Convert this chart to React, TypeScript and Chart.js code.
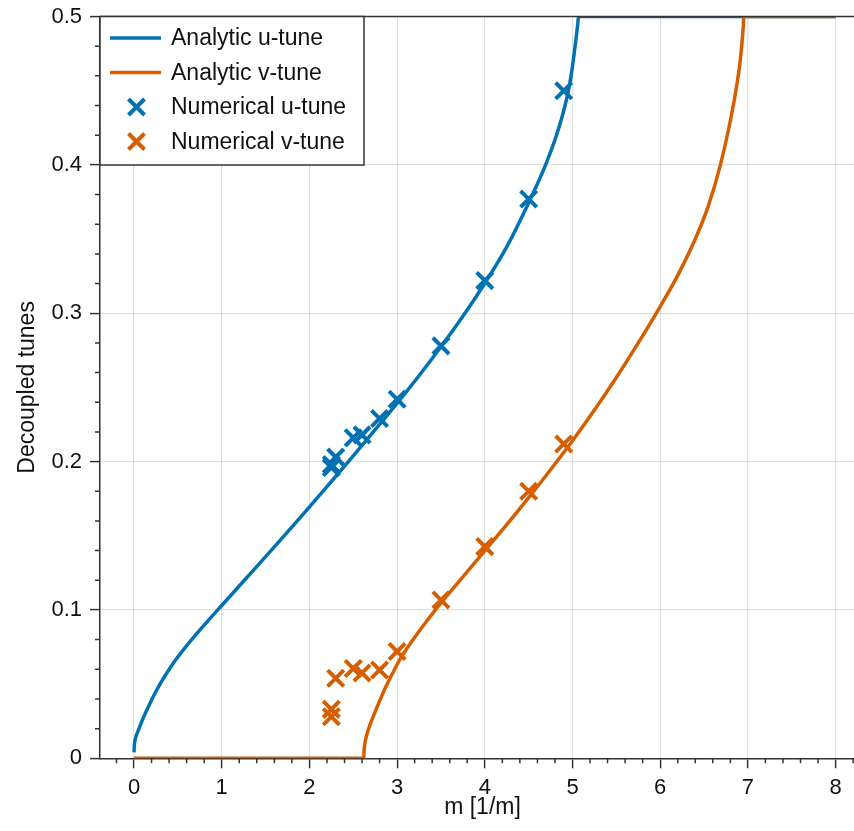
import React, { useEffect, useRef } from 'react';
import { Chart, registerables } from 'chart.js';

Chart.register(...registerables);

const BLUE = '#0072B2';
const ORANGE = '#D55E00';
const FONT = "'Liberation Sans', Arial, Helvetica, sans-serif";

// Analytic u-tune curve
const uLineX = [0, 0.003, 0.01, 0.025, 0.05, 0.1, 0.18, 0.26, 0.35, 0.45, 0.58, 0.72, 0.86, 1.0, 1.3, 1.6, 1.9, 2.2, 2.5, 2.8, 3.1, 3.4, 3.7, 4.0, 4.25, 4.5, 4.7, 4.85, 4.95, 4.99, 5.02, 5.045, 5.06, 5.068, 8.0];
const uLineY = [0.004, 0.0085, 0.0118, 0.0152, 0.019, 0.0265, 0.0368, 0.0462, 0.0553, 0.0643, 0.0744, 0.0843, 0.0938, 0.103, 0.1227, 0.1425, 0.1626, 0.1831, 0.2038, 0.225, 0.2466, 0.2695, 0.2937, 0.3202, 0.3447, 0.3745, 0.401, 0.426, 0.449, 0.4625, 0.4755, 0.4875, 0.495, 0.5, 0.5];

// Analytic v-tune curve
const vLineX = [0, 2.62, 2.622, 2.63, 2.65, 2.69, 2.74, 2.8, 2.87, 2.95, 3.05, 3.17, 3.3, 3.45, 3.6, 3.8, 4.0, 4.25, 4.5, 4.75, 5.0, 5.25, 5.5, 5.75, 6.0, 6.2, 6.4, 6.55, 6.68, 6.78, 6.86, 6.91, 6.935, 6.948, 6.953, 8.0];
const vLineY = [0, 0, 0.004, 0.009, 0.015, 0.0225, 0.03, 0.0385, 0.048, 0.0575, 0.0685, 0.079, 0.0895, 0.101, 0.1118, 0.1258, 0.1398, 0.1575, 0.1757, 0.1945, 0.214, 0.2347, 0.2567, 0.28, 0.3045, 0.3255, 0.35, 0.3725, 0.3985, 0.424, 0.449, 0.469, 0.484, 0.494, 0.5, 0.5];

// Numerical tunes (markers)
const uNumX = [2.25, 2.25, 2.3, 2.5, 2.6, 2.8, 3.0, 3.5, 4.0, 4.5, 4.9];
const uNumY = [0.196, 0.198, 0.203, 0.216, 0.218, 0.229, 0.242, 0.278, 0.322, 0.377, 0.45];
const vNumX = [2.25, 2.25, 2.3, 2.5, 2.6, 2.8, 3.0, 3.5, 4.0, 4.5, 4.9];
const vNumY = [0.028, 0.033, 0.054, 0.0605, 0.0575, 0.0595, 0.072, 0.1067, 0.1427, 0.18, 0.2118];

const xTicks = [0, 1, 2, 3, 4, 5, 6, 7, 8];
const yTicks = [0, 0.1, 0.2, 0.3, 0.4, 0.5];
const xMinorStep = 0.2;
const yMinorStep = 0.02;

const legendLabels = ['Analytic u-tune', 'Analytic v-tune', 'Numerical u-tune', 'Numerical v-tune'];
const xTitle = 'm [1/m]';
const yTitle = 'Decoupled tunes';

const toPts = (xs: number[], ys: number[]) => xs.map((x, i) => ({ x, y: ys[i] }));

const zeroPad = (s: any) => {
  s.paddingTop = 0;
  s.paddingBottom = 0;
  s.paddingLeft = 0;
  s.paddingRight = 0;
};

const decorPlugin = {
  id: 'decor',
  afterDraw(chart: any) {
    const { ctx, chartArea: a, scales } = chart;
    const xs = scales.x;
    const ys = scales.y;
    ctx.save();
    ctx.strokeStyle = '#333';
    ctx.lineWidth = 1.5;
    ctx.beginPath();
    for (let v = Math.ceil(xs.min / xMinorStep) * xMinorStep; v <= xs.max + 1e-9; v += xMinorStep) {
      const r = Math.round(v * 5) / 5;
      if (Math.abs(r - Math.round(r)) < 1e-6) continue;
      const px = xs.getPixelForValue(r);
      ctx.moveTo(px, a.bottom);
      ctx.lineTo(px, a.bottom + 5);
    }
    for (let v = 0; v <= 0.5 + 1e-9; v += yMinorStep) {
      const r = Math.round(v * 50) / 50;
      if (Math.abs(r * 10 - Math.round(r * 10)) < 1e-6) continue;
      const py = ys.getPixelForValue(r);
      ctx.moveTo(a.left, py);
      ctx.lineTo(a.left - 5, py);
    }
    ctx.stroke();
    ctx.beginPath();
    ctx.moveTo(a.left, a.top);
    ctx.lineTo(a.right, a.top);
    ctx.stroke();

    // x axis title
    ctx.fillStyle = '#111';
    ctx.font = `23px ${FONT}`;
    ctx.textAlign = 'center';
    ctx.textBaseline = 'middle';
    ctx.fillText(xTitle, 482.5, 808);

    // legend
    const bx = a.left, by = a.top, bw = 264, bh = 148.5;
    ctx.fillStyle = '#fff';
    ctx.fillRect(bx, by, bw, bh);
    ctx.strokeStyle = '#333';
    ctx.lineWidth = 1.5;
    ctx.strokeRect(bx, by, bw, bh);
    const rows = [38, 72.5, 107, 141.5];
    const colors = [BLUE, ORANGE, BLUE, ORANGE];
    ctx.textAlign = 'left';
    rows.forEach((ry, i) => {
      ctx.strokeStyle = colors[i];
      ctx.lineWidth = i < 2 ? 3.5 : 4;
      ctx.beginPath();
      if (i < 2) {
        ctx.moveTo(110, ry);
        ctx.lineTo(161, ry);
      } else {
        const cx = 136.5, s = 8;
        ctx.moveTo(cx - s, ry - s);
        ctx.lineTo(cx + s, ry + s);
        ctx.moveTo(cx - s, ry + s);
        ctx.lineTo(cx + s, ry - s);
      }
      ctx.stroke();
      ctx.fillStyle = '#111';
      ctx.fillText(legendLabels[i], 171, ry + 1);
    });
    ctx.restore();
  },
};

export default function App() {
  const ref = useRef<HTMLCanvasElement | null>(null);
  useEffect(() => {
    document.body.style.margin = '0';
    const canvas = ref.current;
    if (!canvas) return;
    Chart.defaults.font.family = FONT;
    const chart = new Chart(canvas, {
      type: 'scatter',
      data: {
        datasets: [
          {
            label: legendLabels[2],
            data: toPts(uNumX, uNumY),
            showLine: false,
            pointStyle: 'crossRot',
            pointRadius: 11.5,
            pointHoverRadius: 11.5,
            borderColor: BLUE,
            backgroundColor: BLUE,
            pointBorderWidth: 4,
            borderWidth: 4,
            order: 0,
          },
          {
            label: legendLabels[3],
            data: toPts(vNumX, vNumY),
            showLine: false,
            pointStyle: 'crossRot',
            pointRadius: 11.5,
            pointHoverRadius: 11.5,
            borderColor: ORANGE,
            backgroundColor: ORANGE,
            pointBorderWidth: 4,
            borderWidth: 4,
            order: 0,
          },
          {
            label: legendLabels[1],
            data: toPts(vLineX, vLineY),
            showLine: true,
            pointRadius: 0,
            borderColor: ORANGE,
            borderWidth: 3.5,
            cubicInterpolationMode: 'monotone',
            order: 1,
          } as any,
          {
            label: legendLabels[0],
            data: toPts(uLineX, uLineY),
            showLine: true,
            pointRadius: 0,
            borderColor: BLUE,
            borderWidth: 3.5,
            cubicInterpolationMode: 'monotone',
            order: 2,
          } as any,
        ],
      },
      options: {
        animation: false,
        responsive: false,
        devicePixelRatio: 1,
        layout: { autoPadding: false, padding: { top: 16.5, right: 0, left: 0, bottom: 0 } },
        plugins: { legend: { display: false }, tooltip: { enabled: false } },
        scales: {
          x: {
            type: 'linear',
            min: -0.388,
            max: 8.21,
            afterBuildTicks: (s: any) => {
              s.ticks = xTicks.map((v) => ({ value: v }));
            },
            afterFit: (s: any) => {
              s.height = 72.7;
              zeroPad(s);
            },
            grid: {
              color: 'rgba(0,0,0,0.12)',
              lineWidth: 1.2,
              drawTicks: true,
              tickLength: 10,
              tickColor: '#333',
              tickWidth: 1.5,
            },
            border: { display: true, color: '#333', width: 1.5 },
            ticks: {
              color: '#111',
              font: { size: 22, family: FONT },
              padding: 6,
              maxRotation: 0,
              autoSkip: false,
              callback: (v: any) => String(v),
            },
            title: { display: false },
          },
          y: {
            type: 'linear',
            min: 0,
            max: 0.5,
            afterBuildTicks: (s: any) => {
              s.ticks = yTicks.map((v) => ({ value: v }));
            },
            afterFit: (s: any) => {
              s.width = 100;
              zeroPad(s);
            },
            grid: {
              color: 'rgba(0,0,0,0.12)',
              lineWidth: 1.2,
              drawTicks: true,
              tickLength: 10,
              tickColor: '#333',
              tickWidth: 1.5,
            },
            border: { display: true, color: '#333', width: 1.5 },
            ticks: {
              color: '#111',
              font: { size: 22, family: FONT },
              padding: 8,
              autoSkip: false,
              callback: (v: any) => String(Math.round(v * 10) / 10),
            },
            title: {
              display: true,
              text: yTitle,
              color: '#111',
              font: { size: 23, family: FONT },
              padding: { top: 14, bottom: 0 },
            },
          },
        },
      },
      plugins: [decorPlugin],
    });
    return () => chart.destroy();
  }, []);
  return (
    <div style={{ position: 'absolute', left: 0, top: 0, width: 854, height: 831 }}>
      <canvas ref={ref} width={854} height={831} style={{ display: 'block' }} />
    </div>
  );
}
